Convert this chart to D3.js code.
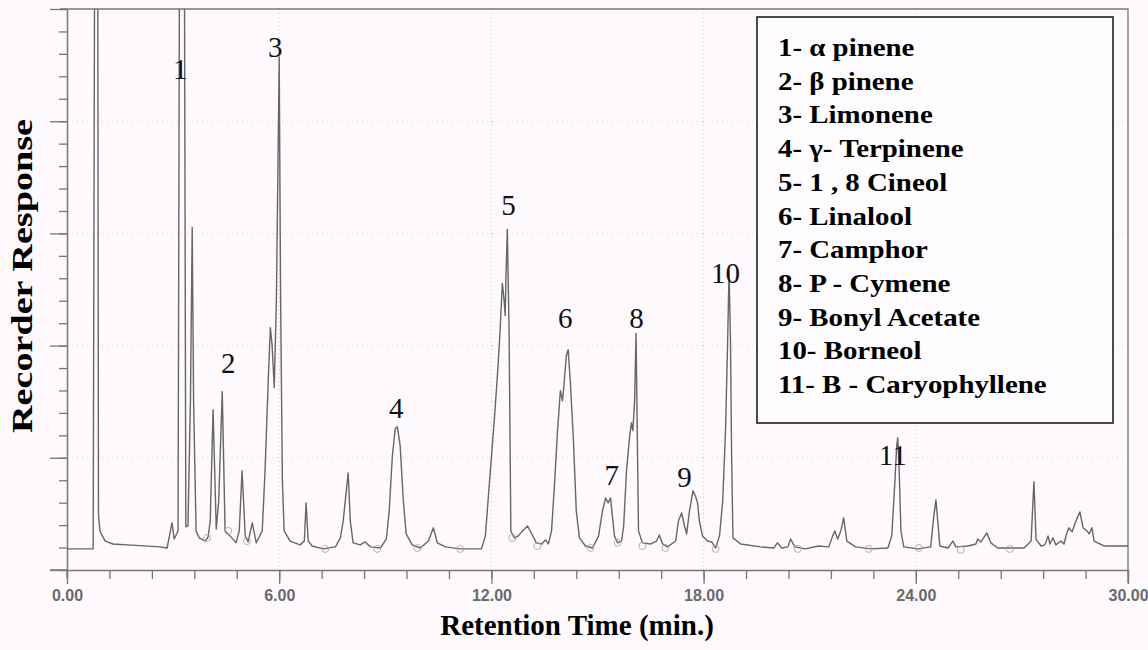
<!DOCTYPE html>
<html>
<head>
<meta charset="utf-8">
<script src="https://cdn.jsdelivr.net/npm/d3@7"></script>
<style>
  html, body { margin: 0; padding: 0; background: #fdf9fd; }
  #chart { width: 1148px; height: 650px; }
</style>
</head>
<body>
<div id="chart"></div>
<script>
// chromatogram trace (minutes, response in tick units)
const retentionTime = [
  0, 0.74, 0.80, 0.86, 0.89, 0.93, 1.08, 1.30, 1.70, 2.63, 2.83, 2.97, 3.03, 3.14, 3.20, 3.30,
  3.36, 3.42, 3.49, 3.54, 3.58, 3.65, 3.74, 3.91, 3.99, 4.05, 4.13, 4.22, 4.29, 4.39, 4.47, 4.61,
  4.78, 4.87, 4.95, 5.04, 5.12, 5.24, 5.35, 5.52, 5.60, 5.69, 5.75, 5.80, 5.86, 5.92, 5.97, 6.00,
  6.04, 6.09, 6.14, 6.31, 6.59, 6.71, 6.76, 6.82, 6.93, 7.25, 7.59, 7.73, 7.81, 7.95, 8.01, 8.09,
  8.29, 8.43, 8.58, 8.86, 9.03, 9.11, 9.20, 9.28, 9.34, 9.42, 9.51, 9.59, 9.76, 9.99, 10.22, 10.36,
  10.47, 10.70, 11.12, 11.72, 11.83, 11.97, 12.08, 12.17, 12.23, 12.31, 12.36, 12.39, 12.41, 12.45, 12.50, 12.53,
  12.55, 12.65, 12.76, 12.88, 13.02, 13.13, 13.27, 13.42, 13.53, 13.61, 13.70, 13.79, 13.87, 13.95, 14.01, 14.05,
  14.12, 14.17, 14.23, 14.32, 14.40, 14.49, 14.66, 14.86, 15.03, 15.14, 15.23, 15.30, 15.37, 15.42, 15.48, 15.57,
  15.68, 15.74, 15.82, 15.91, 15.96, 16.00, 16.05, 16.09, 16.12, 16.16, 16.27, 16.50, 16.67, 16.75, 16.84, 16.98,
  17.21, 17.29, 17.38, 17.46, 17.52, 17.60, 17.70, 17.77, 17.83, 17.88, 17.97, 18.11, 18.23, 18.34, 18.45, 18.54,
  18.62, 18.68, 18.72, 18.76, 18.79, 18.83, 19.05, 19.61, 19.98, 20.09, 20.21, 20.38, 20.46, 20.58, 20.88, 21.25,
  21.54, 21.65, 21.71, 21.79, 21.88, 21.96, 22.05, 22.30, 22.73, 23.21, 23.32, 23.41, 23.46, 23.49, 23.53, 23.58,
  23.66, 24.06, 24.42, 24.51, 24.57, 24.62, 24.68, 24.91, 25.05, 25.13, 25.47, 25.70, 25.75, 25.84, 26.01, 26.12,
  26.32, 27.06, 27.26, 27.34, 27.40, 27.54, 27.65, 27.74, 27.79, 27.88, 27.96, 28.10, 28.19, 28.27, 28.33, 28.42,
  28.53, 28.64, 28.73, 28.84, 28.90, 28.98, 29.04, 29.32, 30.00
];
const response = [
  0.94, 0.94, 40, 40, 2.5, 1.74, 1.29, 1.16, 1.12, 1.03, 0.98, 2.10, 1.38, 1.74, 40, 40,
  1.92, 1.96, 7.5, 15.27, 7.5, 1.74, 1.43, 1.29, 1.47, 2.19, 7.14, 1.83, 3.08, 7.95, 1.74, 1.52,
  1.21, 1.74, 4.42, 1.52, 1.25, 2.10, 1.21, 1.74, 4.42, 8.44, 10.8, 10.0, 8.13, 12.0, 18.7, 22.86,
  12.0, 3.97, 1.74, 1.29, 1.12, 1.29, 2.99, 1.29, 1.07, 0.94, 1.03, 1.43, 2.19, 4.33, 2.19, 1.21,
  1.12, 1.25, 1.03, 0.98, 1.38, 2.63, 5.09, 6.29, 6.38, 5.54, 3.08, 1.61, 1.12, 0.98, 1.29, 1.88,
  1.21, 1.03, 0.94, 0.94, 1.52, 4.42, 6.65, 8.66, 10.2, 12.77, 12.0, 11.34, 12.9, 15.18, 10.67, 5.31,
  1.74, 1.43, 1.52, 1.74, 1.96, 1.65, 1.21, 1.16, 1.34, 1.16, 1.74, 3.97, 6.21, 7.99, 7.54, 8.21,
  9.55, 9.82, 8.44, 5.76, 2.63, 1.43, 1.07, 0.98, 1.52, 2.63, 3.21, 2.99, 3.21, 2.41, 1.52, 1.21,
  1.29, 1.96, 4.42, 5.98, 6.56, 6.21, 7.54, 10.54, 6.65, 1.74, 1.21, 1.16, 1.29, 1.56, 1.16, 1.03,
  1.29, 2.19, 2.54, 1.96, 1.61, 2.63, 3.53, 3.30, 2.99, 2.19, 1.52, 1.29, 1.25, 0.98, 1.52, 3.08,
  6.21, 10.22, 13.35, 10.22, 5.31, 1.43, 1.16, 1.03, 0.98, 1.21, 0.98, 1.03, 1.38, 1.03, 0.94, 1.07,
  1.03, 1.52, 1.74, 1.38, 1.74, 2.32, 1.29, 1.03, 0.94, 0.98, 1.52, 3.97, 5.54, 5.89, 4.42, 1.74,
  1.03, 0.94, 1.03, 2.41, 3.13, 2.19, 1.07, 0.98, 1.29, 1.03, 1.07, 1.16, 1.38, 1.25, 1.65, 1.21,
  0.98, 0.98, 1.29, 3.93, 1.38, 1.07, 1.12, 1.52, 1.16, 1.43, 1.12, 1.29, 1.16, 1.65, 1.88, 1.70,
  2.19, 2.59, 1.88, 1.74, 1.61, 1.88, 1.29, 1.07, 1.07
];

// integration markers on the baseline
const markerTime = [3.96, 4.56, 5.09, 7.30, 8.77, 9.91, 11.12, 12.59, 13.30, 14.80, 15.57, 16.27, 16.92, 18.34, 20.66, 22.67, 24.09, 25.27, 26.66];
const markerResp = [1.43, 1.74, 1.29, 0.94, 0.94, 0.98, 0.94, 1.43, 1.07, 0.98, 1.21, 1.07, 0.98, 0.94, 0.94, 0.94, 0.98, 0.90, 0.94];

// peak numbers and where they are written
const peakIds = ['1', '2', '3', '4', '5', '6', '7', '8', '9', '10', '11'];
const peakLabelTime = [3.20, 4.56, 5.89, 9.31, 12.48, 14.09, 15.40, 16.10, 17.46, 18.62, 23.35];
const peakLabelResp = [21.9, 8.78, 22.86, 6.77, 15.82, 10.78, 3.79, 10.78, 3.70, 12.79, 4.68];

const compounds = [
  '1- α pinene', '2- β pinene', '3- Limonene', '4- γ- Terpinene', '5- 1 , 8 Cineol',
  '6- Linalool', '7- Camphor', '8- P - Cymene', '9- Bonyl Acetate', '10- Borneol',
  '11- B - Caryophyllene'
];

const xMinorTicks = [0, 1.2, 2.4, 3.6, 4.8, 6, 7.2, 8.4, 9.6, 10.8, 12, 13.2, 14.4, 15.6, 16.8, 18, 19.2, 20.4, 21.6, 22.8, 24, 25.2, 26.4, 27.6, 28.8, 30];
const xMajorTicks = [0, 6, 12, 18, 24, 30];
const xTickLabels = ['0.00', '6.00', '12.00', '18.00', '24.00', '30.00'];
const yMinorTicks = d3.range(0, 26);
const yMajorTicks = [0, 5, 10, 15, 20, 25];

const width = 1148, height = 650;
const plot = {left: 67, right: 1128, top: 9, bottom: 570};
const axisColor = '#777';

const svg = d3.select('#chart').append('svg')
  .attr('width', width)
  .attr('height', height);

svg.append('rect').attr('width', width).attr('height', height).attr('fill', '#fdf9fd');

const x = d3.scaleLinear().domain([0, 30]).range([plot.left, plot.right]);
const y = d3.scaleLinear().domain([0, 25]).range([plot.bottom, plot.top]);

// faint dotted grid at the major ticks
svg.append('g')
  .selectAll('line')
  .data(xMajorTicks.slice(1, -1))
  .enter().append('line')
  .attr('x1', d => x(d)).attr('x2', d => x(d))
  .attr('y1', plot.top).attr('y2', plot.bottom)
  .attr('stroke', '#c8c4c8').attr('stroke-dasharray', '1,3');

svg.append('g')
  .selectAll('line')
  .data(yMajorTicks.slice(1, -1))
  .enter().append('line')
  .attr('x1', plot.left).attr('x2', plot.right)
  .attr('y1', d => y(d)).attr('y2', d => y(d))
  .attr('stroke', '#d4d0d4').attr('stroke-dasharray', '1,4');

// frame: top and right
svg.append('path')
  .attr('d', `M${plot.left - 7},${plot.top}H${plot.right}V${plot.bottom + 13}`)
  .attr('fill', 'none').attr('stroke', axisColor).attr('stroke-width', 1.3);

// x axis
const xAxisMinor = d3.axisBottom(x).tickValues(xMinorTicks).tickSize(9).tickSizeOuter(0).tickFormat('');
const xAxisMajor = d3.axisBottom(x).tickValues(xMajorTicks).tickSize(14).tickSizeOuter(0)
  .tickFormat((d, i) => xTickLabels[i]);

const gxMinor = svg.append('g').attr('transform', `translate(0,${plot.bottom})`).call(xAxisMinor);
const gxMajor = svg.append('g').attr('transform', `translate(0,${plot.bottom})`).call(xAxisMajor);
gxMajor.select('.domain').remove();
[gxMinor, gxMajor].forEach(g => {
  g.selectAll('line').attr('stroke', axisColor).attr('stroke-width', 1.3);
  g.selectAll('.domain').attr('stroke', axisColor).attr('stroke-width', 1.5);
});
gxMajor.selectAll('text')
  .attr('font-family', '"Liberation Sans", Arial, sans-serif')
  .attr('font-weight', 'bold')
  .attr('font-size', 16)
  .attr('fill', '#6a6a6a')
  .attr('y', 20);
svg.append('line')
  .attr('x1', plot.left - 17).attr('x2', plot.left)
  .attr('y1', plot.bottom).attr('y2', plot.bottom)
  .attr('stroke', axisColor).attr('stroke-width', 1.5);

// y axis
const yAxisMinor = d3.axisLeft(y).tickValues(yMinorTicks).tickSize(8).tickSizeOuter(0).tickFormat('');
const yAxisMajor = d3.axisLeft(y).tickValues(yMajorTicks).tickSize(17).tickSizeOuter(0).tickFormat('');
const gyMinor = svg.append('g').attr('transform', `translate(${plot.left},0)`).call(yAxisMinor);
const gyMajor = svg.append('g').attr('transform', `translate(${plot.left},0)`).call(yAxisMajor);
gyMajor.select('.domain').remove();
[gyMinor, gyMajor].forEach(g => {
  g.selectAll('line').attr('stroke', axisColor).attr('stroke-width', 1.3);
  g.selectAll('.domain').attr('stroke', axisColor).attr('stroke-width', 1.5);
});
svg.append('line')
  .attr('x1', plot.left).attr('x2', plot.left)
  .attr('y1', plot.bottom).attr('y2', plot.bottom + 8)
  .attr('stroke', axisColor).attr('stroke-width', 1.5);

// trace
svg.append('clipPath').attr('id', 'clip')
  .append('rect')
  .attr('x', plot.left).attr('y', plot.top)
  .attr('width', plot.right - plot.left).attr('height', plot.bottom - plot.top);

const points = retentionTime.map((t, i) => [t, response[i]]);
const line = d3.line().x(d => x(d[0])).y(d => y(d[1]));

svg.append('path')
  .datum(points)
  .attr('clip-path', 'url(#clip)')
  .attr('d', line)
  .attr('fill', 'none')
  .attr('stroke', '#666')
  .attr('stroke-width', 1.4)
  .attr('stroke-linejoin', 'round');

svg.append('g')
  .selectAll('circle')
  .data(markerTime)
  .enter().append('circle')
  .attr('cx', d => x(d))
  .attr('cy', (d, i) => y(markerResp[i]))
  .attr('r', 3.5)
  .attr('fill', 'none')
  .attr('stroke', '#aaa')
  .attr('stroke-width', 0.9);

// peak numbers
svg.append('g')
  .selectAll('text')
  .data(peakIds)
  .enter().append('text')
  .text(d => d)
  .attr('x', (d, i) => x(peakLabelTime[i]))
  .attr('y', (d, i) => y(peakLabelResp[i]))
  .attr('text-anchor', 'middle')
  .attr('font-family', '"Liberation Serif", "Times New Roman", serif')
  .attr('font-size', 29)
  .attr('fill', '#111');

// legend box
const legend = {x: 757, y: 17, w: 356, h: 406, rowTop: 56, rowStep: 33.7};
svg.append('rect')
  .attr('x', legend.x).attr('y', legend.y)
  .attr('width', legend.w).attr('height', legend.h)
  .attr('fill', '#fefcfe')
  .attr('stroke', '#111')
  .attr('stroke-width', 1.5);

svg.append('g')
  .selectAll('text')
  .data(compounds)
  .enter().append('text')
  .text(d => d)
  .attr('x', legend.x + 21)
  .attr('y', (d, i) => legend.rowTop + i * legend.rowStep)
  .attr('font-family', '"Liberation Serif", "Times New Roman", serif')
  .attr('font-weight', 'bold')
  .attr('font-size', 26)
  .attr('fill', '#000')
  .each(function() {
    const len = this.getComputedTextLength();
    d3.select(this).attr('textLength', len * 1.11).attr('lengthAdjust', 'spacingAndGlyphs');
  });

// axis titles
svg.append('text')
  .text('Retention Time (min.)')
  .attr('x', 577).attr('y', 635)
  .attr('text-anchor', 'middle')
  .attr('font-family', '"Liberation Serif", "Times New Roman", serif')
  .attr('font-weight', 'bold')
  .attr('font-size', 29)
  .attr('fill', '#000');

svg.append('text')
  .text('Recorder Response')
  .attr('transform', 'translate(32,276) rotate(-90)')
  .attr('text-anchor', 'middle')
  .attr('font-family', '"Liberation Serif", "Times New Roman", serif')
  .attr('font-weight', 'bold')
  .attr('font-size', 30)
  .attr('fill', '#000')
  .attr('textLength', 314)
  .attr('lengthAdjust', 'spacingAndGlyphs');
</script>
</body>
</html>
